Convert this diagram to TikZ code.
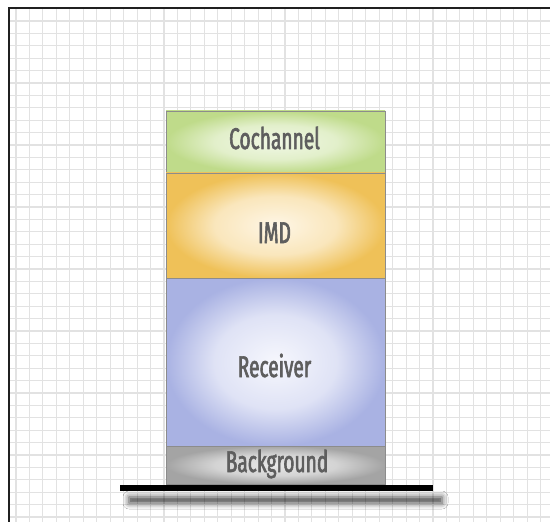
\documentclass[tikz,border=0pt]{standalone}
\usepackage{fontspec}
\setmainfont[FakeStretch=0.64, FakeBold=2]{Fira Sans}
\usetikzlibrary{shadows.blur}

% palette
\definecolor{gridline}{HTML}{E2E2E2}
\definecolor{framecol}{HTML}{202020}
\definecolor{labelgray}{HTML}{5E5E5E}
\definecolor{boxline}{HTML}{8C8C8C}
\definecolor{greenedge}{HTML}{BFDB8A}
\definecolor{greenmid}{HTML}{F1F8E6}
\definecolor{orangeedge}{HTML}{EFC158}
\definecolor{orangemid}{HTML}{FEF6E6}
\definecolor{blueedge}{HTML}{A9B2E3}
\definecolor{bluemid}{HTML}{F6F7FD}
\definecolor{grayedge}{HTML}{A4A4A4}
\definecolor{graymid}{HTML}{E8E8E8}

% glowing fills: wide light centre, coloured rim
\pgfdeclareradialshading{greenglow}{\pgfpoint{0bp}{0bp}}{color(0bp)=(greenmid); color(14bp)=(greenmid!70!greenedge); color(25bp)=(greenedge); color(50bp)=(greenedge)}
\pgfdeclareradialshading{orangeglow}{\pgfpoint{0bp}{0bp}}{color(0bp)=(orangemid); color(14bp)=(orangemid!70!orangeedge); color(25bp)=(orangeedge); color(50bp)=(orangeedge)}
\pgfdeclareradialshading{blueglow}{\pgfpoint{0bp}{0bp}}{color(0bp)=(bluemid); color(14bp)=(bluemid!70!blueedge); color(25bp)=(blueedge); color(50bp)=(blueedge)}
\pgfdeclareradialshading{grayglow}{\pgfpoint{0bp}{0bp}}{color(0bp)=(graymid); color(14bp)=(graymid!70!grayedge); color(25bp)=(grayedge); color(50bp)=(grayedge)}

\tikzset{
  layer/.style={rectangle, draw=boxline, line width=0.7bp, inner sep=0pt, outer sep=0pt, minimum width=219bp},
  lbl/.style={anchor=base, inner sep=0pt, text=labelgray, font=\fontsize{30}{30}\selectfont},
  groundbar/.style={rectangle, fill=black, inner sep=0pt, outer sep=0pt,
    blur shadow={shadow xshift=9bp, shadow yshift=-12bp, shadow blur radius=6bp, shadow opacity=75}},
}

\begin{document}
\begin{tikzpicture}[x=1bp,y=-1bp]
  \useasboundingbox (0,0) rectangle (550,522);
  \fill[white] (0,0) rectangle (550,522);

  % graph-paper background
  \foreach \i in {0,...,40}
    \draw[gridline, line width=1.1bp] ({16+13.45*\i},9) -- ({16+13.45*\i},522);
  \foreach \j in {0,...,41}
    \draw[gridline, line width=1.1bp] (10,{21+12.4*\j}) -- (550,{21+12.4*\j});

  % frame on the top and left edges
  \draw[framecol, line width=1.6bp] (9,522) -- (9,8) -- (550,8);

  % stacked layers
  \node[layer, shading=greenglow,  minimum height=62bp]  (cochannel)  at (275.5,142)   {};
  \node[layer, shading=orangeglow, minimum height=105bp] (imd)        at (275.5,225.5) {};
  \node[layer, shading=blueglow,   minimum height=168bp] (receiver)   at (275.5,362)   {};
  \node[layer, shading=grayglow,   minimum height=38bp]  (background) at (275.5,465)   {};

  % layer names
  \node[lbl] (cochannel-name)  at (274.5,149) {Cochannel};
  \node[lbl] (imd-name)        at (274.5,243) {IMD};
  \node[lbl] (receiver-name)   at (274.5,377) {Receiver};
  \node[lbl] (background-name) at (277,472)   {Background};

  % ground bar under the stack
  \node[groundbar, minimum width=313bp, minimum height=6bp] (ground) at (276.5,488) {};
\end{tikzpicture}
\end{document}
